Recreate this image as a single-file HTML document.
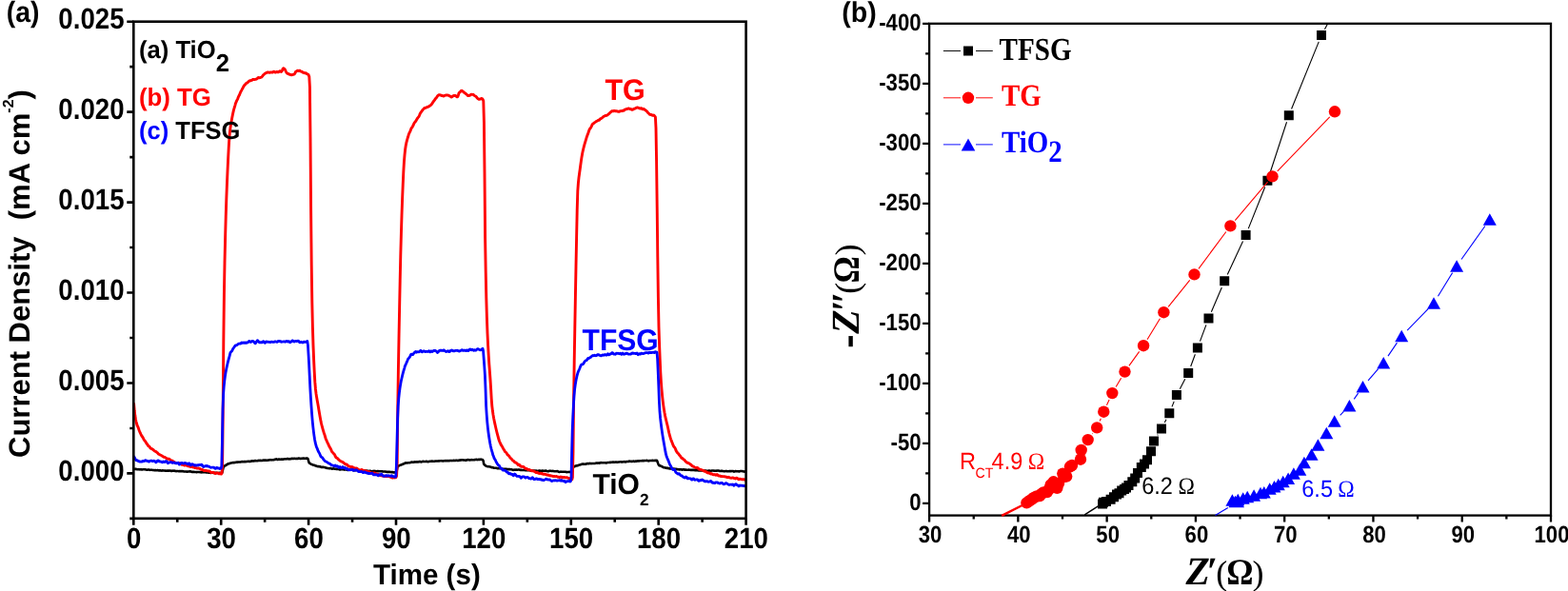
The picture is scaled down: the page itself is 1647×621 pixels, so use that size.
<!DOCTYPE html>
<html><head><meta charset="utf-8"><title>Figure</title>
<style>html,body{margin:0;padding:0;background:#fff;overflow:hidden}svg{display:block}</style>
</head><body>
<svg width="1647" height="621" viewBox="0 0 1647 621" text-rendering="geometricPrecision">
<rect width="1647" height="621" fill="#fff"/>
<g fill="none" stroke-linejoin="round" stroke-linecap="round">
<path d="M140.4,492.92 141,492.96 141.6,492.91 142.2,492.86 142.8,492.88 143.4,492.94 144,493.15 144.6,493.3 145.2,493.18 145.8,493.16 146.4,493.31 147,493.38 147.6,493.32 148.2,493.27 148.8,493.39 149.4,493.45 150,493.33 150.6,493.26 151.2,493.21 151.8,493.2 152.4,493.3 153,493.43 153.6,493.53 154.2,493.67 154.8,493.76 155.4,493.61 156,493.46 156.6,493.61 157.2,493.83 157.8,493.81 158.4,493.72 159,493.74 159.6,493.79 160.2,493.92 160.8,494.07 161.4,494.03 162,494.09 162.6,494.19 163.2,494.12 163.8,494.13 164.4,494.2 165,494.16 165.6,494.1 166.2,494.28 166.8,494.36 167.4,494.26 168,494.35 168.6,494.39 169.2,494.43 169.8,494.65 170.4,494.56 171,494.35 171.6,494.44 172.2,494.55 172.8,494.56 173.4,494.59 174,494.62 174.6,494.73 175.2,494.76 175.8,494.63 176.4,494.59 177,494.61 177.6,494.59 178.2,494.52 178.8,494.56 179.4,494.73 180,494.92 180.6,494.89 181.2,494.66 181.8,494.69 182.4,494.75 183,494.64 183.6,494.71 184.2,494.95 184.8,495.12 185.4,495.1 186,494.97 186.6,494.93 187.2,495.08 187.8,495.21 188.4,495.12 189,495.08 189.6,495.17 190.2,495.17 190.8,495.11 191.4,495.09 192,495.17 192.6,495.31 193.2,495.48 193.8,495.51 194.4,495.47 195,495.48 195.6,495.52 196.2,495.59 196.8,495.62 197.4,495.54 198,495.48 198.6,495.48 199.2,495.34 199.8,495.32 200.4,495.5 201,495.63 201.6,495.87 202.2,496.03 202.8,495.83 203.4,495.76 204,495.91 204.6,495.99 205.2,495.95 205.8,495.99 206.4,496.12 207,496.09 207.6,495.98 208.2,496.03 208.8,496.06 209.4,496.04 210,496.1 210.6,496.18 211.2,496.31 211.8,496.34 212.4,496.27 213,496.24 213.6,496.17 214.2,496.05 214.8,496.16 215.4,496.27 216,496.27 216.6,496.35 217.2,496.39 217.8,496.47 218.4,496.55 219,496.64 219.6,496.59 220.2,496.54 220.8,496.82 221.4,496.94 222,496.79 222.6,496.7 223.2,496.68 223.8,496.74 224.4,496.86 225,496.84 225.6,496.77 226.2,496.74 226.8,496.7 227.4,496.8 228,497 228.6,497.06 229.2,497.07 229.8,496.99 230.4,496.88 231,496.87 231.6,496.91 232.2,496.94 232.8,496.94 233.4,496.58 234,493.81 234.6,491.12 235.2,490.48 235.8,489.75 236.4,489.22 237,489.05 237.6,488.73 238.2,488.2 238.8,487.84 239.4,487.5 240,487.22 240.6,487.17 241.2,487.02 241.8,486.74 242.4,486.56 243,486.46 243.6,486.34 244.2,486.18 244.8,485.99 245.4,485.99 246,486.1 246.6,486 247.2,485.89 247.8,485.8 248.4,485.66 249,485.63 249.6,485.64 250.2,485.54 250.8,485.46 251.4,485.5 252,485.56 252.6,485.5 253.2,485.32 253.8,485.09 254.4,485.03 255,485.21 255.6,485.25 256.2,485.11 256.8,485.1 257.4,485.13 258,485.12 258.6,485.01 259.2,484.93 259.8,484.88 260.4,484.76 261,484.79 261.6,484.86 262.2,484.91 262.8,485 263.4,484.82 264,484.42 264.6,484.31 265.2,484.44 265.8,484.4 266.4,484.43 267,484.41 267.6,484.11 268.2,484.01 268.8,484.22 269.4,484.29 270,484.22 270.6,484.15 271.2,483.99 271.8,483.9 272.4,483.94 273,483.84 273.6,483.81 274.2,483.95 274.8,484 275.4,483.9 276,483.74 276.6,483.64 277.2,483.59 277.8,483.61 278.4,483.64 279,483.62 279.6,483.66 280.2,483.78 280.8,483.74 281.4,483.53 282,483.5 282.6,483.48 283.2,483.31 283.8,483.16 284.4,483.22 285,483.33 285.6,483.28 286.2,483.19 286.8,483.2 287.4,483.24 288,483.01 288.6,482.73 289.2,482.67 289.8,482.49 290.4,482.38 291,482.7 291.6,482.97 292.2,482.82 292.8,482.57 293.4,482.61 294,482.78 294.6,482.74 295.2,482.63 295.8,482.58 296.4,482.59 297,482.64 297.6,482.6 298.2,482.43 298.8,482.32 299.4,482.32 300,482.35 300.6,482.31 301.2,482.17 301.8,482.14 302.4,482.12 303,482.12 303.6,482.36 304.2,482.36 304.8,482.16 305.4,482.14 306,481.96 306.6,481.73 307.2,481.84 307.8,481.96 308.4,481.87 309,481.76 309.6,481.77 310.2,481.89 310.8,481.99 311.4,481.92 312,481.9 312.6,481.92 313.2,481.76 313.8,481.55 314.4,481.57 315,481.84 315.6,481.96 316.2,481.89 316.8,481.81 317.4,481.72 318,481.66 318.6,481.6 319.2,481.59 319.8,481.7 320.4,481.83 321,481.76 321.6,481.6 322.2,481.49 322.8,481.59 323.4,482.01 324,484.17 324.6,486.22 325.2,486.68 325.8,487.05 326.4,487.5 327,487.86 327.6,488.04 328.2,488.24 328.8,488.51 329.4,488.67 330,488.77 330.6,488.98 331.2,489.27 331.8,489.51 332.4,489.64 333,489.91 333.6,490.12 334.2,490.07 334.8,490.09 335.4,490.27 336,490.34 336.6,490.4 337.2,490.72 337.8,490.95 338.4,490.88 339,490.8 339.6,490.88 340.2,491 340.8,491.01 341.4,491.17 342,491.44 342.6,491.54 343.2,491.77 343.8,491.96 344.4,491.95 345,492.09 345.6,492.24 346.2,492.13 346.8,491.99 347.4,492.04 348,492.32 348.6,492.62 349.2,492.6 349.8,492.41 350.4,492.39 351,492.54 351.6,492.68 352.2,492.75 352.8,492.83 353.4,492.88 354,492.88 354.6,492.93 355.2,493.01 355.8,493.07 356.4,493.25 357,493.42 357.6,493.36 358.2,493.15 358.8,493.08 359.4,493.12 360,493.04 360.6,493.14 361.2,493.47 361.8,493.58 362.4,493.41 363,493.29 363.6,493.37 364.2,493.53 364.8,493.8 365.4,493.99 366,493.81 366.6,493.58 367.2,493.57 367.8,493.71 368.4,493.73 369,493.72 369.6,493.77 370.2,493.86 370.8,494.08 371.4,494.25 372,494.18 372.6,494.09 373.2,494.1 373.8,494.1 374.4,494.07 375,494.03 375.6,493.94 376.2,494.03 376.8,494.26 377.4,494.34 378,494.4 378.6,494.39 379.2,494.2 379.8,494.24 380.4,494.46 381,494.53 381.6,494.57 382.2,494.67 382.8,494.61 383.4,494.44 384,494.52 384.6,494.76 385.2,494.71 385.8,494.63 386.4,494.86 387,495.04 387.6,495.01 388.2,494.89 388.8,494.77 389.4,494.93 390,495.18 390.6,495.21 391.2,495.15 391.8,495.07 392.4,494.95 393,494.88 393.6,495.04 394.2,495.17 394.8,495.15 395.4,495.28 396,495.28 396.6,495.13 397.2,495.14 397.8,495.23 398.4,495.29 399,495.26 399.6,495.26 400.2,495.29 400.8,495.25 401.4,495.28 402,495.5 402.6,495.58 403.2,495.47 403.8,495.5 404.4,495.52 405,495.59 405.6,495.74 406.2,495.84 406.8,495.9 407.4,495.85 408,495.86 408.6,495.86 409.2,495.88 409.8,496 410.4,496.08 411,496.14 411.6,496.11 412.2,496.07 412.8,496.2 413.4,496.39 414,496.45 414.6,496.38 415.2,496.31 415.8,496.33 416.4,496.15 417,493.39 417.6,490.39 418.2,489.71 418.8,489.58 419.4,489.19 420,488.88 420.6,488.67 421.2,488.47 421.8,488.28 422.4,487.96 423,487.71 423.6,487.53 424.2,487.27 424.8,487.03 425.4,486.71 426,486.39 426.6,486.39 427.2,486.57 427.8,486.48 428.4,486.32 429,486.25 429.6,486.18 430.2,486.22 430.8,486.2 431.4,485.86 432,485.6 432.6,485.56 433.2,485.62 433.8,485.81 434.4,485.79 435,485.51 435.6,485.37 436.2,485.53 436.8,485.51 437.4,485.28 438,485.29 438.6,485.39 439.2,485.39 439.8,485.28 440.4,485.14 441,485.04 441.6,485.14 442.2,485.39 442.8,485.36 443.4,485.12 444,484.9 444.6,484.81 445.2,484.93 445.8,485.03 446.4,485.02 447,484.92 447.6,484.84 448.2,484.88 448.8,485 449.4,485.18 450,485.18 450.6,484.92 451.2,484.74 451.8,484.73 452.4,484.68 453,484.65 453.6,484.65 454.2,484.65 454.8,484.73 455.4,484.74 456,484.7 456.6,484.61 457.2,484.49 457.8,484.46 458.4,484.49 459,484.52 459.6,484.57 460.2,484.48 460.8,484.37 461.4,484.36 462,484.3 462.6,484.3 463.2,484.26 463.8,484.17 464.4,484.31 465,484.41 465.6,484.34 466.2,484.27 466.8,484.2 467.4,484.15 468,484.16 468.6,484.18 469.2,484.14 469.8,484.09 470.4,484.15 471,484.18 471.6,484.1 472.2,484.08 472.8,484.03 473.4,483.92 474,484 474.6,484.08 475.2,484.05 475.8,483.98 476.4,483.86 477,483.87 477.6,483.96 478.2,483.95 478.8,483.78 479.4,483.66 480,483.82 480.6,483.98 481.2,483.93 481.8,483.69 482.4,483.55 483,483.65 483.6,483.5 484.2,483.3 484.8,483.37 485.4,483.31 486,483.23 486.6,483.42 487.2,483.56 487.8,483.49 488.4,483.54 489,483.72 489.6,483.67 490.2,483.42 490.8,483.22 491.4,483.1 492,483.16 492.6,483.3 493.2,483.33 493.8,483.33 494.4,483.29 495,483.16 495.6,483.17 496.2,483.28 496.8,483.32 497.4,483.32 498,483.21 498.6,483.11 499.2,483.05 499.8,482.88 500.4,482.84 501,483.02 501.6,483.09 502.2,482.97 502.8,482.82 503.4,482.84 504,482.87 504.6,482.74 505.2,482.66 505.8,482.88 506.4,483.11 507,483.06 507.6,484.05 508.2,487.5 508.8,488.32 509.4,488.67 510,489.15 510.6,489.62 511.2,489.91 511.8,490.15 512.4,490.21 513,490.18 513.6,490.27 514.2,490.38 514.8,490.43 515.4,490.62 516,490.98 516.6,491.2 517.2,491.17 517.8,491.22 518.4,491.46 519,491.66 519.6,491.77 520.2,491.82 520.8,491.76 521.4,491.79 522,491.98 522.6,492.2 523.2,492.21 523.8,492.03 524.4,492.09 525,492.29 525.6,492.25 526.2,492.3 526.8,492.58 527.4,492.72 528,492.69 528.6,492.71 529.2,492.81 529.8,492.88 530.4,492.89 531,492.78 531.6,492.78 532.2,492.9 532.8,492.99 533.4,493.12 534,493.13 534.6,493.06 535.2,493.13 535.8,493.26 536.4,493.33 537,493.27 537.6,493.34 538.2,493.65 538.8,493.9 539.4,493.86 540,493.66 540.6,493.67 541.2,493.78 541.8,493.64 542.4,493.54 543,493.68 543.6,493.74 544.2,493.59 544.8,493.46 545.4,493.6 546,493.81 546.6,493.83 547.2,493.87 547.8,494 548.4,494.05 549,494.04 549.6,494.03 550.2,493.97 550.8,493.94 551.4,494.05 552,494.22 552.6,494.2 553.2,494.09 553.8,494.13 554.4,494.25 555,494.26 555.6,494.09 556.2,494.09 556.8,494.4 557.4,494.71 558,494.66 558.6,494.5 559.2,494.64 559.8,494.74 560.4,494.55 561,494.52 561.6,494.67 562.2,494.71 562.8,494.64 563.4,494.67 564,494.9 564.6,494.97 565.2,494.84 565.8,494.65 566.4,494.51 567,494.63 567.6,494.75 568.2,494.8 568.8,494.83 569.4,494.66 570,494.58 570.6,494.69 571.2,494.73 571.8,494.71 572.4,494.74 573,494.65 573.6,494.66 574.2,494.93 574.8,495.1 575.4,495.21 576,495.27 576.6,495 577.2,494.74 577.8,494.74 578.4,494.82 579,494.95 579.6,494.96 580.2,494.9 580.8,494.98 581.4,495.03 582,495.14 582.6,495.22 583.2,495.21 583.8,495.23 584.4,495.22 585,495.15 585.6,495.16 586.2,495.44 586.8,495.8 587.4,495.93 588,495.86 588.6,495.69 589.2,495.65 589.8,495.77 590.4,495.75 591,495.68 591.6,495.7 592.2,495.74 592.8,495.75 593.4,495.73 594,495.7 594.6,495.9 595.2,496.15 595.8,496.04 596.4,495.94 597,496.05 597.6,496.02 598.2,495.88 598.8,495.95 599.4,496.11 600,496.09 600.6,495.55 601.2,493.3 601.8,491.33 602.4,490.63 603,490.41 603.6,490.17 604.2,489.73 604.8,489.46 605.4,489.41 606,489.36 606.6,489.28 607.2,489.01 607.8,488.67 608.4,488.55 609,488.39 609.6,488.22 610.2,488.13 610.8,487.85 611.4,487.64 612,487.63 612.6,487.58 613.2,487.61 613.8,487.71 614.4,487.78 615,487.76 615.6,487.48 616.2,487.2 616.8,487.15 617.4,487.11 618,487.11 618.6,487.17 619.2,487.01 619.8,486.9 620.4,487.05 621,487.09 621.6,487.04 622.2,487.03 622.8,487 623.4,486.99 624,487.01 624.6,486.95 625.2,486.86 625.8,486.71 626.4,486.53 627,486.53 627.6,486.6 628.2,486.52 628.8,486.51 629.4,486.65 630,486.54 630.6,486.23 631.2,486.14 631.8,486.27 632.4,486.31 633,486.27 633.6,486.26 634.2,486.26 634.8,486.26 635.4,486.19 636,486.23 636.6,486.46 637.2,486.47 637.8,486.14 638.4,485.94 639,486 639.6,486.03 640.2,485.91 640.8,485.87 641.4,485.88 642,485.76 642.6,485.71 643.2,485.64 643.8,485.48 644.4,485.5 645,485.66 645.6,485.74 646.2,485.61 646.8,485.44 647.4,485.54 648,485.73 648.6,485.7 649.2,485.53 649.8,485.45 650.4,485.48 651,485.35 651.6,485.2 652.2,485.3 652.8,485.49 653.4,485.5 654,485.4 654.6,485.31 655.2,485.25 655.8,485.14 656.4,485.23 657,485.43 657.6,485.27 658.2,485.01 658.8,484.97 659.4,485.06 660,485.06 660.6,484.79 661.2,484.59 661.8,484.68 662.4,484.77 663,484.84 663.6,484.89 664.2,484.84 664.8,484.69 665.4,484.58 666,484.74 666.6,484.89 667.2,484.75 667.8,484.57 668.4,484.59 669,484.59 669.6,484.38 670.2,484.32 670.8,484.42 671.4,484.39 672,484.28 672.6,484.24 673.2,484.21 673.8,484.18 674.4,484.09 675,483.99 675.6,484.1 676.2,484.14 676.8,483.99 677.4,484 678,484.03 678.6,483.93 679.2,483.88 679.8,483.92 680.4,484.16 681,484.4 681.6,484.28 682.2,484.04 682.8,483.97 683.4,483.94 684,483.97 684.6,483.96 685.2,483.84 685.8,483.87 686.4,483.96 687,483.99 687.6,483.88 688.2,483.75 688.8,483.84 689.4,483.91 690,483.88 690.6,485.22 691.2,486.88 691.8,488.33 692.4,489.03 693,489.34 693.6,489.4 694.2,489.62 694.8,489.98 695.4,490.25 696,490.57 696.6,491.03 697.2,491.27 697.8,491.32 698.4,491.49 699,491.51 699.6,491.59 700.2,491.87 700.8,491.87 701.4,491.8 702,492 702.6,492.31 703.2,492.4 703.8,492.34 704.4,492.44 705,492.51 705.6,492.48 706.2,492.56 706.8,492.6 707.4,492.57 708,492.63 708.6,492.74 709.2,492.78 709.8,492.76 710.4,492.88 711,493.06 711.6,493.12 712.2,493.21 712.8,493.29 713.4,493.38 714,493.39 714.6,493.26 715.2,493.24 715.8,493.37 716.4,493.6 717,493.53 717.6,493.18 718.2,493.22 718.8,493.52 719.4,493.67 720,493.66 720.6,493.63 721.2,493.7 721.8,493.75 722.4,493.77 723,493.7 723.6,493.58 724.2,493.67 724.8,493.79 725.4,493.9 726,493.87 726.6,493.83 727.2,493.89 727.8,493.85 728.4,493.76 729,493.8 729.6,494.01 730.2,494.23 730.8,494.28 731.4,494.27 732,494.31 732.6,494.28 733.2,494.27 733.8,494.4 734.4,494.44 735,494.33 735.6,494.29 736.2,494.34 736.8,494.34 737.4,494.38 738,494.49 738.6,494.5 739.2,494.46 739.8,494.45 740.4,494.54 741,494.58 741.6,494.65 742.2,494.81 742.8,494.86 743.4,494.9 744,494.81 744.6,494.6 745.2,494.6 745.8,494.71 746.4,494.72 747,494.7 747.6,494.58 748.2,494.49 748.8,494.48 749.4,494.51 750,494.65 750.6,494.69 751.2,494.67 751.8,494.78 752.4,494.78 753,494.6 753.6,494.51 754.2,494.53 754.8,494.54 755.4,494.78 756,495 756.6,494.95 757.2,494.89 757.8,494.87 758.4,494.92 759,494.98 759.6,495.02 760.2,495.2 760.8,495.3 761.4,495.19 762,495.03 762.6,495 763.2,495.09 763.8,495.16 764.4,495.2 765,495.27 765.6,495.22 766.2,494.99 766.8,495.05 767.4,495.23 768,495.14 768.6,495.05 769.2,495.03 769.8,495.03 770.4,495.29 771,495.59 771.6,495.44 772.2,495.12 772.8,495.05 773.4,495.21 774,495.3 774.6,495.18 775.2,495.19 775.8,495.39 776.4,495.41 777,495.22 777.6,495.04 778.2,494.99 778.8,494.98 779.4,495.03 780,495.21 780.6,495.3 781.2,495.43 781.8,495.62 782.4,495.48 782.5,495.23" stroke="#000" stroke-width="2.6"/>
<path d="M140.6,424.5 141.2,431.29 141.8,436.3 142.4,440.21 143,443.04 143.6,445.29 144.2,447.22 144.8,448.38 145.4,449.85 146,451.68 146.6,453.25 147.2,454.7 147.8,455.99 148.4,457.25 149,458.26 149.6,458.98 150.2,460.03 150.8,461.19 151.4,462.24 152,463.11 152.6,463.74 153.2,464.66 153.8,465.78 154.4,466.48 155,467.23 155.6,468.49 156.2,469.09 156.8,469.06 157.4,469.9 158,471 158.6,471.34 159.2,471.48 159.8,471.78 160.4,472.18 161,472.66 161.6,473.24 162.2,473.83 162.8,474.14 163.4,474.33 164,474.7 164.6,475.2 165.2,475.62 165.8,476.24 166.4,476.93 167,477.33 167.6,477.65 168.2,477.98 168.8,478.24 169.4,478.51 170,478.94 170.6,479.31 171.2,479.64 171.8,480.19 172.4,480.42 173,480.44 173.6,480.71 174.2,481.12 174.8,481.5 175.4,481.92 176,482.33 176.6,482.2 177.2,482.08 177.8,482.39 178.4,482.77 179,483.48 179.6,484.18 180.2,484.22 180.8,484.01 181.4,484.45 182,485.19 182.6,485.34 183.2,485.44 183.8,486.04 184.4,486.58 185,486.55 185.6,486.36 186.2,486.52 186.8,486.66 187.4,486.54 188,486.62 188.6,486.91 189.2,487.1 189.8,487.4 190.4,488 191,488.36 191.6,488.13 192.2,488.1 192.8,488.43 193.4,488.82 194,489.03 194.6,488.87 195.2,488.68 195.8,488.69 196.4,489.11 197,489.65 197.6,489.74 198.2,489.66 198.8,489.89 199.4,490.28 200,490.46 200.6,490.45 201.2,490.36 201.8,490.25 202.4,490.7 203,491.13 203.6,490.92 204.2,491.11 204.8,491.54 205.4,491.55 206,491.61 206.6,491.88 207.2,492.11 207.8,492.03 208.4,491.93 209,492.19 209.6,492.4 210.2,492.62 210.8,493.04 211.4,493.41 212,493.5 212.6,493.52 213.2,493.89 213.8,494.28 214.4,494.5 215,494.54 215.6,494.37 216.2,494.48 216.8,494.62 217.4,494.58 218,494.79 218.6,494.99 219.2,494.95 219.8,494.92 220.4,495.23 221,495.82 221.6,496.32 222.2,496.48 222.8,496.38 223.4,496.3 224,496.43 224.6,496.71 225.2,496.94 225.8,497.33 226.4,497.62 227,497.26 227.6,496.88 228.2,496.88 228.8,496.92 229.4,497.29 230,497.86 230.6,497.74 231.2,497.49 231.8,497.91 232.4,498.13 233,497.26 233.6,490 234.2,431.42 234.8,359.6 235.4,309.52 236,276.02 236.6,249.87 237.2,228.08 237.8,209.51 238.4,193.7 239,180 239.6,167.36 240.2,155.73 240.8,146 241.4,139.05 242,134.14 242.6,130.22 243.2,126.81 243.8,123.51 244.4,120.41 245,117.59 245.6,115.13 246.2,113.03 246.8,111.1 247.4,108.81 248,107.36 248.6,105.86 249.2,104.74 249.8,103.53 250.4,101.83 251,100.54 251.6,99.61 252.2,98.01 252.8,96.44 253.4,95.49 254,94.39 254.6,93.18 255.2,92.18 255.8,90.99 256.4,89.94 257,89.39 257.6,88.76 258.2,87.97 258.8,87.39 259.4,87.19 260,86.9 260.6,86.19 261.2,85.67 261.8,85.2 262.4,84.79 263,84.74 263.6,84.7 264.2,84.49 264.8,84.02 265.4,83.53 266,83.4 266.6,83.52 267.2,83.6 267.8,83.52 268.4,83.28 269,83.2 269.6,83.06 270.2,82.43 270.8,81.74 271.4,81.41 272,81.55 272.6,81.75 273.2,81.54 273.8,81.36 274.4,81.19 275,80.82 275.6,80.13 276.2,79.22 276.8,78.53 277.4,78.06 278,77.52 278.6,76.97 279.2,76.83 279.8,76.62 280.4,76.12 281,75.98 281.6,76.01 282.2,76.16 282.8,76.31 283.4,76.24 284,76.01 284.6,75.84 285.2,75.97 285.8,76 286.4,76 287,75.67 287.6,75.12 288.2,75.29 288.8,75.85 289.4,76.08 290,75.88 290.6,75.46 291.2,75.33 291.8,75.78 292.4,75.91 293,75.4 293.6,74.84 294.2,74.64 294.8,75.13 295.4,75.44 296,74.89 296.6,73.58 297.2,72.16 297.8,71.72 298.4,72.14 299,72.62 299.6,73.53 300.2,74.87 300.8,76.02 301.4,76.87 302,77.31 302.6,77.35 303.2,77.6 303.8,78.1 304.4,78.3 305,78.33 305.6,78.56 306.2,78.73 306.8,78.63 307.4,78.48 308,78.34 308.6,78.19 309.2,77.92 309.8,77.1 310.4,75.74 311,74.98 311.6,74.74 312.2,74.29 312.8,74.31 313.4,74.6 314,74.39 314.6,74.12 315.2,74.41 315.8,75.03 316.4,75.28 317,75.18 317.6,75.5 318.2,76.14 318.8,76.39 319.4,76.46 320,76.82 320.6,76.91 321.2,76.77 321.8,77.23 322.4,77.81 323,77.89 323.6,78.11 324.2,79.09 324.8,80.62 325.4,91.08 326,144.21 326.6,221.04 327.2,277.98 327.8,317.44 328.4,343.7 329,362.9 329.6,377.75 330.2,390.51 330.8,401.15 331.4,408.47 332,413.44 332.6,417.37 333.2,420.73 333.8,424.03 334.4,427.61 335,431.22 335.6,434.78 336.2,438.2 336.8,441.41 337.4,444.34 338,446.9 338.6,449.22 339.2,451.38 339.8,453.4 340.4,455.3 341,456.92 341.6,458.97 342.2,461.01 342.8,462.49 343.4,463.75 344,465.11 344.6,466.25 345.2,467.62 345.8,469.01 346.4,469.99 347,471 347.6,472.13 348.2,473.55 348.8,474.74 349.4,475.38 350,476.07 350.6,476.73 351.2,477.33 351.8,478.37 352.4,479.86 353,480.88 353.6,481.06 354.2,481.34 354.8,482.01 355.4,482.62 356,483.23 356.6,483.75 357.2,484.21 357.8,484.62 358.4,484.85 359,485.03 359.6,485.31 360.2,485.75 360.8,486.21 361.4,486.68 362,487.12 362.6,487.67 363.2,487.99 363.8,487.98 364.4,488.19 365,488.72 365.6,489.51 366.2,490.11 366.8,490.13 367.4,490.21 368,490.38 368.6,490.47 369.2,490.8 369.8,490.61 370.4,490.7 371,491.83 371.6,492.11 372.2,491.69 372.8,491.81 373.4,492.09 374,492.11 374.6,492.05 375.2,492.38 375.8,492.9 376.4,493.27 377,493.52 377.6,493.81 378.2,494.02 378.8,493.83 379.4,493.6 380,493.44 380.6,493.8 381.2,494.38 381.8,494.48 382.4,494.64 383,494.71 383.6,494.63 384.2,494.81 384.8,495 385.4,495.29 386,495.72 386.6,495.85 387.2,495.65 387.8,495.72 388.4,496.07 389,496.4 389.6,496.97 390.2,497.44 390.8,497.25 391.4,496.96 392,496.9 392.6,496.88 393.2,496.93 393.8,497.14 394.4,497.44 395,497.81 395.6,498.11 396.2,498.17 396.8,498.12 397.4,498.4 398,498.98 398.6,499.36 399.2,499.56 399.8,499.7 400.4,499.68 401,499.6 401.6,499.99 402.2,500.23 402.8,499.93 403.4,500.22 404,500.6 404.6,500.52 405.2,500.63 405.8,500.69 406.4,500.54 407,500.53 407.6,500.5 408.2,500.51 408.8,500.72 409.4,501 410,501.27 410.6,501.25 411.2,501.34 411.8,501.93 412.4,502.17 413,501.9 413.6,501.67 414.2,501.73 414.8,501.94 415.4,501.75 416,501.53 416.6,499.92 417.2,486.06 417.8,427.83 418.4,388.43 419,355.57 419.6,324.9 420.2,294.85 420.8,267.83 421.4,245.65 422,226.25 422.6,209.29 423.2,194.46 423.8,181.05 424.4,170.47 425,163.1 425.6,157.33 426.2,153.23 426.8,150.22 427.4,147.79 428,145.71 428.6,143.78 429.2,141.54 429.8,140.05 430.4,138.82 431,137.66 431.6,135.92 432.2,134.64 432.8,133.88 433.4,132.88 434,131.8 434.6,130.45 435.2,129.08 435.8,128.32 436.4,127.8 437,126.91 437.6,125.8 438.2,124.82 438.8,123.86 439.4,123.12 440,122.47 440.6,121.04 441.2,119.41 441.8,118.41 442.4,117.73 443,116.93 443.6,116.01 444.2,115.27 444.8,114.63 445.4,113.84 446,113.52 446.6,113.49 447.2,113.14 447.8,112.92 448.4,112.8 449,112.35 449.6,112.1 450.2,112.11 450.8,111.65 451.4,111.1 452,110.91 452.6,110.45 453.2,109.72 453.8,109.09 454.4,108.11 455,106.98 455.6,106.28 456.2,105.6 456.8,104.63 457.4,103.68 458,103.02 458.6,102.39 459.2,101.48 459.8,100.67 460.4,100.14 461,99.66 461.6,99.76 462.2,100.07 462.8,99.92 463.4,100.09 464,100.52 464.6,100.56 465.2,100.64 465.8,101 466.4,100.91 467,100.35 467.6,100.17 468.2,100.16 468.8,100.01 469.4,99.95 470,100.04 470.6,100.17 471.2,100.27 471.8,100.64 472.4,100.97 473,101.12 473.6,101.61 474.2,102.05 474.8,101.75 475.4,101.19 476,100.77 476.6,100.44 477.2,100.44 477.8,100.45 478.4,100.41 479,100.96 479.6,101.65 480.2,101.85 480.8,101.63 481.4,99.95 482,97.83 482.6,97.03 483.2,96.8 483.8,96 484.4,95.35 485,95.28 485.6,95.59 486.2,96.04 486.8,96.6 487.4,97.17 488,97.51 488.6,97.91 489.2,98.46 489.8,98.9 490.4,99.34 491,100.06 491.6,100.67 492.2,100.58 492.8,100.31 493.4,100.3 494,99.91 494.6,99.37 495.2,99.18 495.8,99.3 496.4,99.4 497,99.37 497.6,99.71 498.2,100.36 498.8,100.74 499.4,101.04 500,101.46 500.6,102.08 501.2,102.97 501.8,103.57 502.4,103.81 503,104.21 503.6,104.28 504.2,104.08 504.8,103.99 505.4,103.62 506,103.42 506.6,103.73 507.2,104.51 507.8,106.2 508.4,128.08 509,180.94 509.6,250 510.2,285.61 510.8,313.13 511.4,334.15 512,350.25 512.6,362.8 513.2,373.33 513.8,382.57 514.4,390.51 515,398.55 515.6,408.28 516.2,418.74 516.8,426.6 517.4,431.56 518,435.71 518.6,439.23 519.2,442.3 519.8,445.1 520.4,447.8 521,450.47 521.6,453.02 522.2,455.43 522.8,457.69 523.4,459.77 524,462.11 524.6,463.74 525.2,465.05 525.8,466.46 526.4,467.6 527,468.5 527.6,469.44 528.2,470.66 528.8,471.74 529.4,472.55 530,473.64 530.6,474.65 531.2,475.12 531.8,475.56 532.4,476.63 533,477.65 533.6,478.23 534.2,478.69 534.8,479.26 535.4,480.21 536,481.09 536.6,481.61 537.2,482.06 537.8,482.83 538.4,483.61 539,484.09 539.6,484.36 540.2,485.08 540.8,485.92 541.4,486 542,486.15 542.6,486.59 543.2,487.13 543.8,488.02 544.4,488.5 545,488.23 545.6,488.39 546.2,489.3 546.8,489.94 547.4,490.23 548,490.35 548.6,490.3 549.2,490.37 549.8,490.46 550.4,490.88 551,491.53 551.6,492.04 552.2,492.55 552.8,492.55 553.4,492.54 554,493.17 554.6,493.67 555.2,493.51 555.8,493.37 556.4,493.89 557,494.33 557.6,494.19 558.2,494.34 558.8,494.85 559.4,494.92 560,494.81 560.6,495 561.2,495.33 561.8,495.72 562.4,496.13 563,496.5 563.6,496.44 564.2,496.27 564.8,496.72 565.4,497.2 566,497.4 566.6,497.48 567.2,497.29 567.8,497.4 568.4,497.73 569,497.51 569.6,497.55 570.2,498.13 570.8,498.29 571.4,498.2 572,498.14 572.6,498.18 573.2,498.46 573.8,498.89 574.4,498.97 575,498.9 575.6,499.2 576.2,499.22 576.8,499.33 577.4,499.77 578,499.71 578.6,499.77 579.2,500.16 579.8,500.13 580.4,500.14 581,500.48 581.6,500.61 582.2,500.55 582.8,500.54 583.4,500.58 584,500.66 584.6,500.54 585.2,500.75 585.8,501.21 586.4,501.15 587,501.23 587.6,501.56 588.2,501.29 588.8,501.04 589.4,501.12 590,501.2 590.6,501.62 591.2,501.78 591.8,501.45 592.4,501.42 593,501.68 593.6,501.73 594.2,501.77 594.8,501.83 595.4,501.71 596,501.92 596.6,502.27 597.2,502.53 597.8,502.66 598.4,502.74 599,503.22 599.6,503.64 600.2,503.78 600.8,503.88 601.4,501.67 602,473.92 602.6,420 603.2,380.5 603.8,345.72 604.4,311.62 605,279.73 605.6,250.13 606.2,221 606.8,200.92 607.4,192.44 608,186.67 608.6,182.25 609.2,178.06 609.8,173.49 610.4,169.13 611,165.15 611.6,161.71 612.2,158.82 612.8,156.24 613.4,153.9 614,151.73 614.6,149.66 615.2,147.62 615.8,145.61 616.4,143.67 617,142.01 617.6,140.59 618.2,138.72 618.8,136.93 619.4,135.68 620,134.86 620.6,134.07 621.2,132.86 621.8,131.55 622.4,130.43 623,129.81 623.6,129.58 624.2,129.15 624.8,128.48 625.4,128.17 626,127.84 626.6,127.37 627.2,127.18 627.8,126.74 628.4,126.26 629,126.33 629.6,126.09 630.2,125.21 630.8,124.65 631.4,124.5 632,124.09 632.6,123.66 633.2,123.18 633.8,122.58 634.4,122.26 635,121.94 635.6,121.63 636.2,121.44 636.8,121.37 637.4,121.3 638,120.89 638.6,120.38 639.2,119.98 639.8,119.48 640.4,118.77 641,118.21 641.6,117.75 642.2,117.21 642.8,116.73 643.4,116.59 644,116.81 644.6,116.72 645.2,116.38 645.8,116.49 646.4,116.87 647,116.78 647.6,116.65 648.2,116.83 648.8,117.12 649.4,117.27 650,117.31 650.6,117.24 651.2,116.89 651.8,116.6 652.4,116.6 653,116.69 653.6,116.41 654.2,116.2 654.8,116.37 655.4,116.11 656,115.46 656.6,115.01 657.2,114.8 657.8,114.78 658.4,114.65 659,114.33 659.6,114.1 660.2,113.98 660.8,114.04 661.4,114.49 662,114.7 662.6,114.51 663.2,114.78 663.8,115.22 664.4,115.23 665,114.92 665.6,114.54 666.2,114.26 666.8,114.11 667.4,113.78 668,113.41 668.6,113.26 669.2,113 669.8,112.9 670.4,113.28 671,113.49 671.6,113.59 672.2,113.96 672.8,114.01 673.4,113.68 674,113.93 674.6,114.69 675.2,114.87 675.8,114.51 676.4,114.54 677,115.06 677.6,115.5 678.2,115.96 678.8,116.57 679.4,116.95 680,117.58 680.6,118.48 681.2,118.99 681.8,119.55 682.4,120.23 683,120.51 683.6,120.5 684.2,120.5 684.8,120.78 685.4,121.29 686,121.28 686.6,121.06 687.2,121.48 687.8,122.16 688.4,122.86 689,134.55 689.6,170 690.2,218.09 690.8,270 691.4,312.66 692,343.9 692.6,362.37 693.2,377.51 693.8,391.26 694.4,401.38 695,408.99 695.6,415.51 696.2,421.09 696.8,425.88 697.4,430 698,433.57 698.6,436.69 699.2,439.47 699.8,442.02 700.4,444.47 701,446.94 701.6,449.54 702.2,452.35 702.8,455 703.4,457.3 704,459.43 704.6,461.37 705.2,463.12 705.8,464.52 706.4,465.97 707,467.67 707.6,469.03 708.2,469.72 708.8,470.33 709.4,471.57 710,473.25 710.6,474.47 711.2,475.26 711.8,475.98 712.4,476.54 713,477.26 713.6,478.21 714.2,478.87 714.8,479.49 715.4,480.61 716,481.38 716.6,481.44 717.2,481.89 717.8,482.69 718.4,482.97 719,483.31 719.6,484.26 720.2,484.86 720.8,485.37 721.4,486.1 722,486.23 722.6,486.28 723.2,486.63 723.8,486.87 724.4,487.31 725,487.88 725.6,488.16 726.2,488.67 726.8,489.43 727.4,489.82 728,490 728.6,490.24 729.2,490.63 729.8,490.99 730.4,491.29 731,491.53 731.6,491.46 732.2,491.46 732.8,491.69 733.4,492.21 734,492.94 734.6,493.31 735.2,493.28 735.8,493.42 736.4,493.65 737,493.73 737.6,493.99 738.2,494.28 738.8,494.47 739.4,494.93 740,495.28 740.6,495.29 741.2,495.3 741.8,495.78 742.4,496.35 743,496.52 743.6,496.92 744.2,497.12 744.8,496.87 745.4,497.02 746,497.71 746.6,497.99 747.2,497.67 747.8,497.83 748.4,498.3 749,498.64 749.6,498.8 750.2,498.67 750.8,498.56 751.4,498.81 752,499.2 752.6,498.88 753.2,498.58 753.8,499.03 754.4,499.66 755,500.01 755.6,499.89 756.2,499.9 756.8,500.32 757.4,500.56 758,500.54 758.6,500.66 759.2,500.69 759.8,500.59 760.4,500.69 761,500.72 761.6,500.85 762.2,501.04 762.8,501.08 763.4,501.46 764,501.69 764.6,501.44 765.2,501.31 765.8,501.54 766.4,501.9 767,502.09 767.6,502.19 768.2,502.21 768.8,502.11 769.4,501.99 770,502.02 770.6,502.38 771.2,502.53 771.8,502.59 772.4,502.93 773,502.67 773.6,502.2 774.2,502.36 774.8,502.73 775.4,503.4 776,503.76 776.6,503.35 777.2,503.17 777.8,503.3 778.4,503.51 779,503.8 779.6,503.78 780.2,503.68 780.8,503.78 781.4,503.69 782,503.85 782.5,504.11" stroke="#ff0000" stroke-width="2.9"/>
<path d="M140.4,479.6 141,480.36 141.6,481.32 142.2,482.45 142.8,483.42 143.4,483.73 144,483.55 144.6,483.97 145.2,484.51 145.8,484.62 146.4,484.87 147,485.14 147.6,485.06 148.2,484.99 148.8,485.22 149.4,484.95 150,484.39 150.6,484.64 151.2,484.68 151.8,484.25 152.4,483.81 153,483.62 153.6,484 154.2,484.42 154.8,484.46 155.4,484.5 156,485.05 156.6,485.08 157.2,484.56 157.8,484.27 158.4,484.09 159,484.07 159.6,484.36 160.2,484.68 160.8,484.49 161.4,484.21 162,484.32 162.6,484.54 163.2,485.2 163.8,485.88 164.4,485.56 165,484.71 165.6,484.07 166.2,483.87 166.8,484.32 167.4,484.96 168,485.05 168.6,484.98 169.2,485.05 169.8,485.5 170.4,485.78 171,485.32 171.6,484.98 172.2,485.24 172.8,485.48 173.4,485.07 174,484.64 174.6,484.55 175.2,484.91 175.8,486.12 176.4,486.67 177,486.09 177.6,486.06 178.2,485.95 178.8,485.47 179.4,485.59 180,485.72 180.6,486.12 181.2,486.35 181.8,485.85 182.4,486.03 183,486.33 183.6,486.15 184.2,486.45 184.8,486.79 185.4,486.75 186,486.81 186.6,486.48 187.2,486.19 187.8,487.26 188.4,488.07 189,487.77 189.6,487.09 190.2,486.44 190.8,486.38 191.4,486.46 192,486.77 192.6,487.14 193.2,486.93 193.8,486.54 194.4,486.37 195,486.82 195.6,487.17 196.2,486.95 196.8,487.37 197.4,487.85 198,487.22 198.6,486.77 199.2,487.36 199.8,488.45 200.4,488.92 201,488.25 201.6,487.59 202.2,487.86 202.8,488.18 203.4,488.23 204,488.84 204.6,489.09 205.2,488.73 205.8,488.78 206.4,489.16 207,489.05 207.6,488.68 208.2,488.81 208.8,488.63 209.4,488.41 210,488.68 210.6,488.65 211.2,488.23 211.8,488.05 212.4,488.76 213,490.04 213.6,490.56 214.2,490.35 214.8,490.07 215.4,489.7 216,489.72 216.6,489.8 217.2,489.47 217.8,489.57 218.4,490.06 219,490.09 219.6,490.12 220.2,490.55 220.8,490.96 221.4,491.26 222,491.17 222.6,491.05 223.2,491.21 223.8,491.19 224.4,491.09 225,491.43 225.6,492.02 226.2,492.43 226.8,492.16 227.4,491.44 228,491.43 228.6,491.87 229.2,492.03 229.8,491.94 230.4,492.09 231,492.51 231.6,492.28 232.2,492.13 232.8,489.61 233.4,464.96 234,430.3 234.6,414.44 235.2,406.07 235.8,400.23 236.4,395.51 237,391.68 237.6,388.49 238.2,385.65 238.8,382.97 239.4,380.44 240,378.09 240.6,375.92 241.2,373.96 241.8,371.13 242.4,369.98 243,369.33 243.6,368.9 244.2,367.68 244.8,366.41 245.4,365.55 246,364.77 246.6,363.89 247.2,363.08 247.8,362.78 248.4,362.8 249,362.49 249.6,362.02 250.2,361.5 250.8,361.11 251.4,361.01 252,361.11 252.6,361.09 253.2,360.57 253.8,359.91 254.4,360.02 255,360.45 255.6,360.03 256.2,359.88 256.8,360.4 257.4,360.39 258,359.83 258.6,359.83 259.2,360.3 259.8,360.06 260.4,359.57 261,359.06 261.6,358.43 262.2,358.56 262.8,359.27 263.4,359.49 264,359.05 264.6,358.49 265.2,358.42 265.8,358.59 266.4,358.83 267,359.6 267.6,360.51 268.2,360.84 268.8,360.1 269.4,359.06 270,358.14 270.6,357.63 271.2,358.34 271.8,359.3 272.4,359.77 273,359.86 273.6,359.7 274.2,359.64 274.8,359.9 275.4,359.8 276,359.07 276.6,358.63 277.2,358.98 277.8,359.93 278.4,360.29 279,359.62 279.6,359.01 280.2,359.08 280.8,359.26 281.4,359.25 282,359.34 282.6,359.39 283.2,359.42 283.8,359.61 284.4,359.51 285,359.21 285.6,359.11 286.2,359.26 286.8,359.48 287.4,359.41 288,359.28 288.6,358.9 289.2,358.8 289.8,359.13 290.4,359.16 291,359.4 291.6,359.22 292.2,358.46 292.8,358.4 293.4,358.64 294,358.51 294.6,358.67 295.2,359.16 295.8,359.25 296.4,359.12 297,359.05 297.6,358.95 298.2,358.8 298.8,358.97 299.4,359.23 300,359.02 300.6,358.56 301.2,358.44 301.8,358.83 302.4,359.01 303,358.68 303.6,358.6 304.2,359.39 304.8,359.85 305.4,359.24 306,358.93 306.6,358.47 307.2,357.82 307.8,358.13 308.4,358.75 309,359.08 309.6,358.73 310.2,358.3 310.8,358.49 311.4,358.61 312,358.5 312.6,358.3 313.2,358.11 313.8,358.51 314.4,359.38 315,359.82 315.6,359.49 316.2,359.27 316.8,359.55 317.4,359.83 318,359.98 318.6,359.69 319.2,359.23 319.8,359.19 320.4,359.33 321,359.43 321.6,359.32 322.2,358.75 322.8,358.43 323.4,362.37 324,372.16 324.6,382.6 325.2,395.11 325.8,407.42 326.4,417.61 327,426.87 327.6,435.12 328.2,442.26 328.8,448.49 329.4,453.58 330,458.07 330.6,462 331.2,465.16 331.8,467.51 332.4,469.56 333,470.82 333.6,472.37 334.2,473.9 334.8,475.18 335.4,476.01 336,477.29 336.6,478.9 337.2,480 337.8,480.47 338.4,480.67 339,481.42 339.6,482.49 340.2,483.2 340.8,483.85 341.4,484.54 342,484.83 342.6,485 343.2,485.47 343.8,485.82 344.4,486.13 345,486.73 345.6,487.05 346.2,487.11 346.8,487.42 347.4,488.01 348,488.59 348.6,488.84 349.2,488.98 349.8,489.17 350.4,489.43 351,489.69 351.6,489.19 352.2,488.99 352.8,489.89 353.4,490.01 354,489.62 354.6,489.79 355.2,490.47 355.8,491.36 356.4,491.06 357,490.49 357.6,490.88 358.2,491.53 358.8,491.82 359.4,490.99 360,490.52 360.6,491.25 361.2,491.67 361.8,491.34 362.4,491.28 363,492.33 363.6,492.75 364.2,492.31 364.8,492.6 365.4,493.23 366,493.79 366.6,493.61 367.2,493.37 367.8,493.77 368.4,493.7 369,493.53 369.6,493.72 370.2,493.37 370.8,493.51 371.4,494.44 372,494.33 372.6,494.07 373.2,494.15 373.8,493.75 374.4,493.75 375,494.26 375.6,494.67 376.2,495.24 376.8,495.59 377.4,495.48 378,495.69 378.6,495.72 379.2,495.45 379.8,495.53 380.4,495.84 381,496.41 381.6,496.59 382.2,496.14 382.8,495.92 383.4,496.16 384,496.5 384.6,496.86 385.2,496.79 385.8,496.8 386.4,497.42 387,497.52 387.6,497.4 388.2,497.65 388.8,497.51 389.4,497.39 390,497.48 390.6,497.37 391.2,497.46 391.8,498.06 392.4,498.87 393,498.93 393.6,498.68 394.2,498.83 394.8,498.71 395.4,498.73 396,498.98 396.6,499.35 397.2,499.73 397.8,499.07 398.4,498.64 399,499.09 399.6,499 400.2,498.24 400.8,498.06 401.4,499.16 402,499.95 402.6,500.02 403.2,500.3 403.8,500.35 404.4,500.07 405,499.86 405.6,499.53 406.2,499.71 406.8,500.3 407.4,500.06 408,499.67 408.6,499.98 409.2,500.07 409.8,500.05 410.4,500.34 411,500.11 411.6,499.65 412.2,500.25 412.8,500.9 413.4,500.57 414,500.73 414.6,501.28 415.2,501.02 415.8,500.9 416.4,488.55 417,464.38 417.6,440.73 418.2,426.6 418.8,418.55 419.4,412.82 420,408.25 420.6,404.39 421.2,401.08 421.8,398.19 422.4,395.58 423,393.14 423.6,390.86 424.2,388.75 424.8,386.81 425.4,384.62 426,383.33 426.6,382.02 427.2,380.61 427.8,379.18 428.4,377.65 429,376.78 429.6,376.15 430.2,375.39 430.8,374.4 431.4,372.89 432,372.12 432.6,372.33 433.2,372.64 433.8,372.6 434.4,371.61 435,370.66 435.6,370.33 436.2,369.54 436.8,369.48 437.4,370.27 438,370.04 438.6,369.54 439.2,369.7 439.8,369.8 440.4,369.62 441,369.24 441.6,368.45 442.2,368.42 442.8,369.49 443.4,369.88 444,369.44 444.6,369.13 445.2,368.87 445.8,368.97 446.4,369.51 447,369.57 447.6,369.31 448.2,369.36 448.8,369.5 449.4,369.46 450,369.07 450.6,368.68 451.2,369.31 451.8,369.77 452.4,369.1 453,368.92 453.6,369.42 454.2,369.59 454.8,369.02 455.4,368.48 456,368.54 456.6,368.36 457.2,368.44 457.8,368.9 458.4,369.05 459,369.79 459.6,370.48 460.2,369.99 460.8,369.17 461.4,368.56 462,368.25 462.6,368.24 463.2,368.26 463.8,368.22 464.4,368.38 465,368.48 465.6,368.17 466.2,367.86 466.8,368.16 467.4,368.81 468,369.2 468.6,369.51 469.2,369.42 469.8,369.06 470.4,368.76 471,368.85 471.6,369.69 472.2,369.7 472.8,368.72 473.4,368.35 474,368.31 474.6,367.92 475.2,368.2 475.8,368.87 476.4,368.78 477,368.68 477.6,368.73 478.2,368.47 478.8,368.42 479.4,368.28 480,368.23 480.6,368.37 481.2,368.6 481.8,368.95 482.4,369.03 483,368.92 483.6,368.52 484.2,368.2 484.8,367.76 485.4,367.62 486,368.27 486.6,368.36 487.2,368.16 487.8,368.33 488.4,368.19 489,368.19 489.6,368.5 490.2,368.13 490.8,367.88 491.4,368.53 492,368.57 492.6,367.82 493.2,367.23 493.8,366.88 494.4,367.23 495,367.85 495.6,367.68 496.2,367.27 496.8,367.74 497.4,368.28 498,367.85 498.6,367.72 499.2,368.23 499.8,368.14 500.4,367.63 501,367.06 501.6,366.6 502.2,366.67 502.8,367.04 503.4,367.38 504,367.67 504.6,367.78 505.2,367.67 505.8,367.35 506.4,366.62 507,366.23 507.6,368.92 508.2,377.15 508.8,385.26 509.4,394.33 510,408.48 510.6,426.6 511.2,436.02 511.8,443.54 512.4,449.57 513,454.51 513.6,458.77 514.2,462.58 514.8,465.96 515.4,468.95 516,471.53 516.6,473.74 517.2,475.64 517.8,478.12 518.4,479.43 519,481.25 519.6,482.41 520.2,483.19 520.8,484.49 521.4,485.81 522,486.69 522.6,487.66 523.2,488.59 523.8,488.74 524.4,489.27 525,490.58 525.6,491.62 526.2,491.91 526.8,492.11 527.4,492.94 528,493.88 528.6,494.14 529.2,493.92 529.8,494.22 530.4,494.44 531,494.36 531.6,495.16 532.2,496.08 532.8,496.07 533.4,496.28 534,497.19 534.6,497.85 535.2,497.8 535.8,497.52 536.4,497.94 537,498.45 537.6,498.22 538.2,498.41 538.8,499.4 539.4,499.69 540,498.68 540.6,498 541.2,498.46 541.8,499.23 542.4,499.99 543,500.49 543.6,500.38 544.2,500.33 544.8,500.48 545.4,500.52 546,500.66 546.6,501.38 547.2,502.33 547.8,502.02 548.4,501.06 549,500.88 549.6,500.92 550.2,500.83 550.8,501.04 551.4,501.63 552,502.1 552.6,501.91 553.2,501.47 553.8,501.29 554.4,501.54 555,502.06 555.6,502.57 556.2,502.79 556.8,502.76 557.4,502.99 558,503.02 558.6,502.42 559.2,501.77 559.8,502.12 560.4,503.27 561,503.76 561.6,503.58 562.2,503.39 562.8,503.1 563.4,502.88 564,503.15 564.6,503.68 565.2,503.69 565.8,503.37 566.4,503.45 567,503.79 567.6,503.7 568.2,503.76 568.8,504.31 569.4,504.24 570,504.2 570.6,504.7 571.2,504.64 571.8,504.28 572.4,504.03 573,503.65 573.6,503.23 574.2,503.41 574.8,503.9 575.4,503.92 576,504.07 576.6,504 577.2,503.84 577.8,504.26 578.4,504.72 579,505.22 579.6,505.52 580.2,505.33 580.8,505.01 581.4,504.83 582,504.99 582.6,504.94 583.2,504.7 583.8,504.77 584.4,504.95 585,505.14 585.6,505.14 586.2,504.81 586.8,504.87 587.4,504.97 588,504.55 588.6,504.97 589.2,505.24 589.8,504.41 590.4,504.68 591,505.21 591.6,505.44 592.2,505.68 592.8,505.3 593.4,505.94 594,506.7 594.6,506.28 595.2,505.85 595.8,505.65 596.4,505.64 597,505.73 597.6,505.51 598.2,505.76 598.8,506.06 599.4,505.67 600,502.38 600.6,476.09 601.2,452.42 601.8,437.73 602.4,425.59 603,416.02 603.6,409.32 604.2,404.86 604.8,401.06 605.4,397.83 606,395.11 606.6,392.82 607.2,391.01 607.8,389.54 608.4,388.25 609,386.86 609.6,385.34 610.2,383.9 610.8,383.06 611.4,382.85 612,382.82 612.6,382.51 613.2,381.59 613.8,380.34 614.4,379.5 615,379.02 615.6,378.74 616.2,378.64 616.8,377.88 617.4,376.63 618,376.31 618.6,376.54 619.2,376.05 619.8,375.56 620.4,375.4 621,374.8 621.6,374.27 622.2,373.73 622.8,373.52 623.4,373.82 624,373.58 624.6,373.28 625.2,373.54 625.8,373.84 626.4,373.74 627,373.18 627.6,372.76 628.2,372.7 628.8,372.74 629.4,373.11 630,373.34 630.6,373.54 631.2,373.92 631.8,373.68 632.4,373.25 633,372.96 633.6,372.91 634.2,373.28 634.8,373.04 635.4,372.52 636,372.83 636.6,373.13 637.2,373.06 637.8,372.57 638.4,371.77 639,372.02 639.6,372.88 640.2,372.48 640.8,371.82 641.4,372.03 642,371.77 642.6,370.92 643.2,370.56 643.8,371.09 644.4,371.89 645,372.08 645.6,372.02 646.2,372.24 646.8,371.91 647.4,371.23 648,371.29 648.6,371.34 649.2,371.2 649.8,371.46 650.4,371.73 651,371.5 651.6,371.18 652.2,371.82 652.8,372.39 653.4,371.52 654,371.04 654.6,371.75 655.2,372.23 655.8,371.92 656.4,371.67 657,371.84 657.6,371.47 658.2,371.07 658.8,371.3 659.4,371.76 660,372.16 660.6,372.15 661.2,372.06 661.8,372.13 662.4,372.14 663,371.82 663.6,371.02 664.2,370.95 664.8,371.41 665.4,371.22 666,371.25 666.6,371.46 667.2,371.34 667.8,371.63 668.4,371.58 669,371.04 669.6,371.89 670.2,372.67 670.8,372.01 671.4,371.67 672,372.16 672.6,372.12 673.2,371.36 673.8,371.18 674.4,371.44 675,371.55 675.6,371.59 676.2,371.45 676.8,371.15 677.4,370.92 678,370.67 678.6,370.57 679.2,370.71 679.8,370.54 680.4,370.61 681,371.1 681.6,370.65 682.2,370.24 682.8,370.55 683.4,370.5 684,370.47 684.6,370.51 685.2,370.45 685.8,370.27 686.4,370.04 687,370.5 687.6,370.53 688.2,369.66 688.8,369.78 689.4,370.08 690,370.1 690.6,376.77 691.2,390.38 691.8,404.85 692.4,421.81 693,432.71 693.6,439.42 694.2,444.65 694.8,449.24 695.4,453.65 696,457.63 696.6,461.29 697.2,464.75 697.8,468.13 698.4,471.59 699,474.89 699.6,477.73 700.2,479.82 700.8,481.29 701.4,482.6 702,483.92 702.6,485.44 703.2,487.08 703.8,488.29 704.4,489.42 705,490.58 705.6,491.71 706.2,493.04 706.8,493.56 707.4,493.51 708,493.29 708.6,493.38 709.2,494.68 709.8,496.27 710.4,496.88 711,497.04 711.6,497.71 712.2,498.14 712.8,497.85 713.4,497.67 714,498.36 714.6,499.25 715.2,499.78 715.8,499.81 716.4,499.91 717,500.73 717.6,501.28 718.2,501.52 718.8,501.92 719.4,502.03 720,501.55 720.6,500.99 721.2,501.46 721.8,502.61 722.4,502.96 723,502.65 723.6,502.57 724.2,502.8 724.8,502.96 725.4,502.87 726,503.35 726.6,504.15 727.2,503.88 727.8,503.12 728.4,502.88 729,503.35 729.6,504.13 730.2,504.32 730.8,504.07 731.4,503.98 732,503.8 732.6,503.96 733.2,504.65 733.8,505.25 734.4,505.32 735,504.64 735.6,504.52 736.2,504.9 736.8,504.5 737.4,503.98 738,504.22 738.6,504.86 739.2,505.17 739.8,505.36 740.4,505.81 741,505.99 741.6,505.76 742.2,505.55 742.8,505.64 743.4,506.08 744,506.32 744.6,506.23 745.2,506.15 745.8,505.8 746.4,505.39 747,505.78 747.6,506.59 748.2,507.12 748.8,507.29 749.4,507.14 750,507.33 750.6,507.68 751.2,507.4 751.8,506.85 752.4,506.84 753,506.91 753.6,506.89 754.2,507.44 754.8,507.72 755.4,507.79 756,508.1 756.6,507.77 757.2,507.42 757.8,507.4 758.4,507.5 759,507.85 759.6,508.32 760.2,508.75 760.8,508.71 761.4,508.39 762,507.9 762.6,507.61 763.2,507.81 763.8,508.2 764.4,508.64 765,509.01 765.6,509.37 766.2,509.42 766.8,509.22 767.4,509.05 768,509.07 768.6,509.36 769.2,509.29 769.8,508.99 770.4,509.63 771,510.24 771.6,509.6 772.2,508.96 772.8,508.65 773.4,508.84 774,509.57 774.6,509.75 775.2,509.98 775.8,510.83 776.4,510.77 777,509.98 777.6,510.04 778.2,510.25 778.8,510.14 779.4,510.07 780,510.25 780.6,510.64 781.2,510.55 781.8,510.47 782.4,510.74 782.5,510.61" stroke="#0000ff" stroke-width="2.8"/>
</g>
<g stroke="#000" stroke-width="2.6" fill="none">
<rect x="140.3" y="22.7" width="643.3" height="522.1"/>
<path d="M136.3,544.87H140.3M133.3,497.4H140.3M136.3,449.93H140.3M133.3,402.46H140.3M136.3,354.99H140.3M133.3,307.52H140.3M136.3,260.05H140.3M133.3,212.58H140.3M136.3,165.11H140.3M133.3,117.64H140.3M136.3,70.17H140.3M133.3,22.7H140.3M140.3,544.8V551.8M186.25,544.8V548.8M232.2,544.8V551.8M278.15,544.8V548.8M324.1,544.8V551.8M370.05,544.8V548.8M416,544.8V551.8M461.95,544.8V548.8M507.9,544.8V551.8M553.85,544.8V548.8M599.8,544.8V551.8M645.75,544.8V548.8M691.7,544.8V551.8M737.65,544.8V548.8M783.6,544.8V551.8" stroke-linecap="butt"/>
</g>
<text transform="translate(6.8,22.8) scale(0.93,1)" font-family="'Liberation Sans', Arial, sans-serif" font-size="30.6" font-weight="bold" font-style="normal" fill="#000" text-anchor="start">(a)</text>
<text transform="translate(130.5,504.7) scale(0.897,1)" font-family="'Liberation Sans', Arial, sans-serif" font-size="30.8" font-weight="bold" font-style="normal" fill="#000" text-anchor="end">0.000</text>
<text transform="translate(130.5,409.76) scale(0.897,1)" font-family="'Liberation Sans', Arial, sans-serif" font-size="30.8" font-weight="bold" font-style="normal" fill="#000" text-anchor="end">0.005</text>
<text transform="translate(130.5,314.82) scale(0.897,1)" font-family="'Liberation Sans', Arial, sans-serif" font-size="30.8" font-weight="bold" font-style="normal" fill="#000" text-anchor="end">0.010</text>
<text transform="translate(130.5,219.88) scale(0.897,1)" font-family="'Liberation Sans', Arial, sans-serif" font-size="30.8" font-weight="bold" font-style="normal" fill="#000" text-anchor="end">0.015</text>
<text transform="translate(130.5,124.94) scale(0.897,1)" font-family="'Liberation Sans', Arial, sans-serif" font-size="30.8" font-weight="bold" font-style="normal" fill="#000" text-anchor="end">0.020</text>
<text transform="translate(130.5,30) scale(0.897,1)" font-family="'Liberation Sans', Arial, sans-serif" font-size="30.8" font-weight="bold" font-style="normal" fill="#000" text-anchor="end">0.025</text>
<text transform="translate(140.6,576.4) scale(0.897,1)" font-family="'Liberation Sans', Arial, sans-serif" font-size="30.8" font-weight="bold" font-style="normal" fill="#000" text-anchor="middle">0</text>
<text transform="translate(232.5,576.4) scale(0.897,1)" font-family="'Liberation Sans', Arial, sans-serif" font-size="30.8" font-weight="bold" font-style="normal" fill="#000" text-anchor="middle">30</text>
<text transform="translate(324.4,576.4) scale(0.897,1)" font-family="'Liberation Sans', Arial, sans-serif" font-size="30.8" font-weight="bold" font-style="normal" fill="#000" text-anchor="middle">60</text>
<text transform="translate(416.3,576.4) scale(0.897,1)" font-family="'Liberation Sans', Arial, sans-serif" font-size="30.8" font-weight="bold" font-style="normal" fill="#000" text-anchor="middle">90</text>
<text transform="translate(508.2,576.4) scale(0.897,1)" font-family="'Liberation Sans', Arial, sans-serif" font-size="30.8" font-weight="bold" font-style="normal" fill="#000" text-anchor="middle">120</text>
<text transform="translate(600.1,576.4) scale(0.897,1)" font-family="'Liberation Sans', Arial, sans-serif" font-size="30.8" font-weight="bold" font-style="normal" fill="#000" text-anchor="middle">150</text>
<text transform="translate(692,576.4) scale(0.897,1)" font-family="'Liberation Sans', Arial, sans-serif" font-size="30.8" font-weight="bold" font-style="normal" fill="#000" text-anchor="middle">180</text>
<text transform="translate(783.9,576.4) scale(0.897,1)" font-family="'Liberation Sans', Arial, sans-serif" font-size="30.8" font-weight="bold" font-style="normal" fill="#000" text-anchor="middle">210</text>
<text transform="translate(392,613.7) scale(0.975,1)" font-family="'Liberation Sans', Arial, sans-serif" font-size="30.3" font-weight="bold" font-style="normal" fill="#000" text-anchor="start">Time (s)</text>
<text transform="translate(31.2,481) scale(1.0,1) rotate(-90)" font-family="'Liberation Sans', Arial, sans-serif" font-size="31.0" font-weight="bold" font-style="normal" fill="#000" text-anchor="start">Current Density&#160; (mA cm<tspan font-size="16" dy="-17.5">-2</tspan><tspan dy="17.5">)</tspan></text>
<text transform="translate(146,61.4) scale(0.985,1)" font-family="'Liberation Sans', Arial, sans-serif" font-size="26" font-weight="bold" font-style="normal" fill="#000" text-anchor="start">(a) TiO<tspan dy="13.6">2</tspan></text>
<text transform="translate(146,111.2) scale(0.985,1)" font-family="'Liberation Sans', Arial, sans-serif" font-size="26.2" font-weight="bold" font-style="normal" fill="#ff0000" text-anchor="start">(b) TG</text>
<text transform="translate(146,146.2) scale(0.975,1)" font-family="'Liberation Sans', Arial, sans-serif" font-size="26.2" font-weight="bold" font-style="normal" fill="#000" text-anchor="start"><tspan fill="#0000ff">(c)</tspan> TFSG</text>
<text transform="translate(635.5,105) scale(0.98,1)" font-family="'Liberation Sans', Arial, sans-serif" font-size="31.1" font-weight="bold" font-style="normal" fill="#ff0000" text-anchor="start">TG</text>
<text transform="translate(611.5,367.7) scale(0.955,1)" font-family="'Liberation Sans', Arial, sans-serif" font-size="31.5" font-weight="bold" font-style="normal" fill="#0000ff" text-anchor="start">TFSG</text>
<text transform="translate(622.5,518.6) scale(0.99,1)" font-family="'Liberation Sans', Arial, sans-serif" font-size="30.3" font-weight="bold" font-style="normal" fill="#000" text-anchor="start">TiO<tspan font-size="17.5" dy="12">2</tspan></text>
<defs><clipPath id="cb"><rect x="976.1" y="24.8" width="652.9" height="516.8"/></clipPath></defs>
<g clip-path="url(#cb)">
<path d="M1215.78,457.36L1216.22,456.64M1223.33,443.9L1224.97,440.7M1231,427.42L1233.2,421.88M1239.32,408.65L1244.78,398.35M1250.71,385.04L1255.39,372.26M1260.47,358.57L1266.93,341.33M1272.35,327.78L1283.35,301.92M1289.27,288.58L1305.53,253.52M1311.3,240.12L1328.7,196.48M1333.67,182.76L1351.53,128.24M1356.55,114.54L1385.25,43.86M1391.46,30.67L1397.2,20" stroke="#000" stroke-width="1.1" fill="none"/>
<path d="M1153.1,524.6h10v10h-10zM1154,522.8h10v10h-10zM1157,522h10v10h-10zM1161.6,519.8h10v10h-10zM1165,517.3h10v10h-10zM1168,514.5h10v10h-10zM1170.5,513.3h10v10h-10zM1173.2,510.5h10v10h-10zM1176,509h10v10h-10zM1178,507.5h10v10h-10zM1180.5,505h10v10h-10zM1184.3,501.3h10v10h-10zM1187.2,497.4h10v10h-10zM1190,492h10v10h-10zM1193.8,486h10v10h-10zM1197,482.5h10v10h-10zM1200,478.3h10v10h-10zM1204,469.2h10v10h-10zM1207,458.6h10v10h-10zM1215,445.4h10v10h-10zM1223.3,429.2h10v10h-10zM1230.9,410.1h10v10h-10zM1243.2,386.9h10v10h-10zM1252.9,360.4h10v10h-10zM1264.5,329.5h10v10h-10zM1281.2,290.2h10v10h-10zM1303.6,241.9h10v10h-10zM1326.4,184.7h10v10h-10zM1348.8,116.3h10v10h-10zM1383,32.1h10v10h-10z" fill="#000"/>
<path d="M1147.25,456.01L1147.65,455.49M1155.17,442.41L1156.33,439.69M1162.47,425.79L1165.13,420.01M1172.15,406.54L1177.65,397.16M1185.92,384.42L1196.68,369.38M1205.05,356.71L1218.45,334.69M1227.17,322.28L1249.73,294.32M1259.03,282.3L1287.87,243.5M1297.32,231.6L1331.58,191.2M1341.77,179.92L1396.73,122.78" stroke="#ff0000" stroke-width="1.1" fill="none"/>
<g fill="#ff0000"><circle cx="1078.4" cy="528.4" r="6.2"/><circle cx="1081" cy="526.5" r="6.2"/><circle cx="1084" cy="524.5" r="6.2"/><circle cx="1086.4" cy="522.7" r="6.2"/><circle cx="1089" cy="521.5" r="6.2"/><circle cx="1092.2" cy="521" r="6.2"/><circle cx="1094" cy="519" r="6.2"/><circle cx="1096" cy="517.4" r="6.2"/><circle cx="1099.9" cy="517" r="6.2"/><circle cx="1102" cy="514" r="6.2"/><circle cx="1103.7" cy="509.5" r="6.2"/><circle cx="1106.6" cy="506.3" r="6.2"/><circle cx="1108" cy="510" r="6.2"/><circle cx="1110.3" cy="512.9" r="6.2"/><circle cx="1112" cy="508" r="6.2"/><circle cx="1116.3" cy="497.6" r="6.2"/><circle cx="1117.5" cy="501" r="6.2"/><circle cx="1120.2" cy="500.6" r="6.2"/><circle cx="1124" cy="490.3" r="6.2"/><circle cx="1126" cy="489" r="6.2"/><circle cx="1135" cy="482.7" r="6.2"/><circle cx="1135.7" cy="473" r="6.2"/><circle cx="1142.7" cy="462.1" r="6.2"/><circle cx="1152.2" cy="449.4" r="6.2"/><circle cx="1159.3" cy="432.7" r="6.2"/><circle cx="1168.3" cy="413.1" r="6.2"/><circle cx="1181.5" cy="390.6" r="6.2"/><circle cx="1201.1" cy="363.2" r="6.2"/><circle cx="1222.4" cy="328.2" r="6.2"/><circle cx="1254.5" cy="288.4" r="6.2"/><circle cx="1292.4" cy="237.4" r="6.2"/><circle cx="1336.5" cy="185.4" r="6.2"/><circle cx="1402" cy="117.3" r="6.2"/></g>
<path d="M1407.63,436.31L1411.47,432.39M1422.28,419.34L1426.62,413.16M1437.07,399.78L1447.63,387.62M1457.96,374.16L1467.44,360.14M1478.14,347.02L1500.06,324.58M1510.46,311.26L1525.64,286.64M1535.03,272.47L1559.87,237.53" stroke="#0000ff" stroke-width="1.1" fill="none"/>
<path d="M1294.4,519.15L1301.4,531.65L1287.4,531.65zM1297.5,520.75L1304.5,533.25L1290.5,533.25zM1300,520.75L1307,533.25L1293,533.25zM1300.3,518.75L1307.3,531.25L1293.3,531.25zM1305.7,517.25L1312.7,529.75L1298.7,529.75zM1310.2,515.65L1317.2,528.15L1303.2,528.15zM1317.1,514.15L1324.1,526.65L1310.1,526.65zM1324,511.85L1331,524.35L1317,524.35zM1327.8,511.05L1334.8,523.55L1320.8,523.55zM1333.7,507.25L1340.7,519.75L1326.7,519.75zM1338.5,504.95L1345.5,517.45L1331.5,517.45zM1342.8,502.65L1349.8,515.15L1335.8,515.15zM1347.7,499.65L1354.7,512.15L1340.7,512.15zM1353.1,496.55L1360.1,509.05L1346.1,509.05zM1358.9,491.25L1365.9,503.75L1351.9,503.75zM1365.3,487.35L1372.3,499.85L1358.3,499.85zM1369.9,479.75L1376.9,492.25L1362.9,492.25zM1377.6,471.35L1384.6,483.85L1370.6,483.85zM1384.4,461.35L1391.4,473.85L1377.4,473.85zM1393.3,448.75L1400.3,461.25L1386.3,461.25zM1401.7,436.15L1408.7,448.65L1394.7,448.65zM1417.4,420.05L1424.4,432.55L1410.4,432.55zM1431.5,399.95L1438.5,412.45L1424.5,412.45zM1453.2,374.95L1460.2,387.45L1446.2,387.45zM1472.2,346.85L1479.2,359.35L1465.2,359.35zM1506,312.25L1513,324.75L1499,324.75zM1530.1,273.15L1537.1,285.65L1523.1,285.65zM1564.8,224.35L1571.8,236.85L1557.8,236.85z" fill="#0000ff"/>
</g>
<g stroke="#000" stroke-width="2.3" fill="none">
<rect x="976.1" y="24.8" width="652.9" height="516.8"/>
<path d="M969.1,528.85H976.1M972.1,497.35H976.1M969.1,465.84H976.1M972.1,434.34H976.1M969.1,402.84H976.1M972.1,371.33H976.1M969.1,339.83H976.1M972.1,308.33H976.1M969.1,276.83H976.1M972.1,245.32H976.1M969.1,213.82H976.1M972.1,182.32H976.1M969.1,150.81H976.1M972.1,119.31H976.1M969.1,87.81H976.1M972.1,56.3H976.1M969.1,24.8H976.1M976.1,541.6V548.6M1022.74,541.6V545.6M1069.37,541.6V548.6M1116.01,541.6V545.6M1162.64,541.6V548.6M1209.28,541.6V545.6M1255.91,541.6V548.6M1302.55,541.6V545.6M1349.19,541.6V548.6M1395.82,541.6V545.6M1442.46,541.6V548.6M1489.09,541.6V545.6M1535.73,541.6V548.6M1582.36,541.6V545.6M1629,541.6V548.6"/>
</g>
<path d="M1052.2,541.9L1073.2,531.2" stroke="#ff0000" stroke-width="2.4" fill="none"/>
<path d="M1139.3,540.9L1153.4,531.9" stroke="#000" stroke-width="1.4" fill="none"/>
<path d="M1276.5,541.6L1289.8,533.4" stroke="#0000ff" stroke-width="1.2" fill="none"/>
<text transform="translate(884.3,22.9) scale(0.95,1)" font-family="'Liberation Sans', Arial, sans-serif" font-size="30" font-weight="bold" font-style="normal" fill="#000" text-anchor="start">(b)</text>
<text transform="translate(967.5,535.85) scale(0.885,1)" font-family="'Liberation Sans', Arial, sans-serif" font-size="25" font-weight="bold" font-style="normal" fill="#000" text-anchor="end">0</text>
<text transform="translate(967.5,472.84) scale(0.885,1)" font-family="'Liberation Sans', Arial, sans-serif" font-size="25" font-weight="bold" font-style="normal" fill="#000" text-anchor="end">-50</text>
<text transform="translate(967.5,409.84) scale(0.885,1)" font-family="'Liberation Sans', Arial, sans-serif" font-size="25" font-weight="bold" font-style="normal" fill="#000" text-anchor="end">-100</text>
<text transform="translate(967.5,346.83) scale(0.885,1)" font-family="'Liberation Sans', Arial, sans-serif" font-size="25" font-weight="bold" font-style="normal" fill="#000" text-anchor="end">-150</text>
<text transform="translate(967.5,283.83) scale(0.885,1)" font-family="'Liberation Sans', Arial, sans-serif" font-size="25" font-weight="bold" font-style="normal" fill="#000" text-anchor="end">-200</text>
<text transform="translate(967.5,220.82) scale(0.885,1)" font-family="'Liberation Sans', Arial, sans-serif" font-size="25" font-weight="bold" font-style="normal" fill="#000" text-anchor="end">-250</text>
<text transform="translate(967.5,157.81) scale(0.885,1)" font-family="'Liberation Sans', Arial, sans-serif" font-size="25" font-weight="bold" font-style="normal" fill="#000" text-anchor="end">-300</text>
<text transform="translate(967.5,94.81) scale(0.885,1)" font-family="'Liberation Sans', Arial, sans-serif" font-size="25" font-weight="bold" font-style="normal" fill="#000" text-anchor="end">-350</text>
<text transform="translate(967.5,31.8) scale(0.885,1)" font-family="'Liberation Sans', Arial, sans-serif" font-size="25" font-weight="bold" font-style="normal" fill="#000" text-anchor="end">-400</text>
<text transform="translate(977.1,570.4) scale(0.885,1)" font-family="'Liberation Sans', Arial, sans-serif" font-size="25" font-weight="bold" font-style="normal" fill="#000" text-anchor="middle">30</text>
<text transform="translate(1070.37,570.4) scale(0.885,1)" font-family="'Liberation Sans', Arial, sans-serif" font-size="25" font-weight="bold" font-style="normal" fill="#000" text-anchor="middle">40</text>
<text transform="translate(1163.64,570.4) scale(0.885,1)" font-family="'Liberation Sans', Arial, sans-serif" font-size="25" font-weight="bold" font-style="normal" fill="#000" text-anchor="middle">50</text>
<text transform="translate(1256.91,570.4) scale(0.885,1)" font-family="'Liberation Sans', Arial, sans-serif" font-size="25" font-weight="bold" font-style="normal" fill="#000" text-anchor="middle">60</text>
<text transform="translate(1350.19,570.4) scale(0.885,1)" font-family="'Liberation Sans', Arial, sans-serif" font-size="25" font-weight="bold" font-style="normal" fill="#000" text-anchor="middle">70</text>
<text transform="translate(1443.46,570.4) scale(0.885,1)" font-family="'Liberation Sans', Arial, sans-serif" font-size="25" font-weight="bold" font-style="normal" fill="#000" text-anchor="middle">80</text>
<text transform="translate(1536.73,570.4) scale(0.885,1)" font-family="'Liberation Sans', Arial, sans-serif" font-size="25" font-weight="bold" font-style="normal" fill="#000" text-anchor="middle">90</text>
<text transform="translate(1630,570.4) scale(0.885,1)" font-family="'Liberation Sans', Arial, sans-serif" font-size="25" font-weight="bold" font-style="normal" fill="#000" text-anchor="middle">100</text>
<text transform="translate(1245.5,613.8) scale(1.0,1)" font-family="'Liberation Serif', 'Times New Roman', serif" font-size="41.5" font-weight="bold" font-style="italic" fill="#000" text-anchor="start">Z</text>
<text transform="translate(1266.9,613.8) scale(1.0,1)" font-family="'Liberation Serif', 'Times New Roman', serif" font-size="41.5" font-weight="bold" font-style="italic" fill="#000" text-anchor="start">′</text>
<text transform="translate(1277.3,613.8) scale(1.0,1)" font-family="'Liberation Serif', 'Times New Roman', serif" font-size="36" font-weight="normal" font-style="normal" fill="#000" text-anchor="start">(</text>
<text transform="translate(1288.3,613.8) scale(1.0,1) scale(0.906,1)" font-family="'Liberation Serif', 'Times New Roman', serif" font-size="39" font-weight="bold" font-style="normal" fill="#000" text-anchor="start">Ω</text>
<text transform="translate(1315.6,613.8) scale(1.0,1)" font-family="'Liberation Serif', 'Times New Roman', serif" font-size="36" font-weight="normal" font-style="normal" fill="#000" text-anchor="start">)</text>
<text transform="translate(902.5,365.3) scale(1.0,1) rotate(-90)" font-family="'Liberation Serif', 'Times New Roman', serif" font-size="40" font-weight="bold" font-style="normal" fill="#000" text-anchor="start"><tspan stroke="#000" stroke-width="0.9">-</tspan></text>
<text transform="translate(902.3,350.7) scale(1.0,1) rotate(-90)" font-family="'Liberation Serif', 'Times New Roman', serif" font-size="41.5" font-weight="bold" font-style="italic" fill="#000" text-anchor="start">Z</text>
<text transform="translate(902.3,328.2) scale(1.0,1) rotate(-90)" font-family="'Liberation Serif', 'Times New Roman', serif" font-size="41.5" font-weight="bold" font-style="italic" fill="#000" text-anchor="start">″</text>
<text transform="translate(902.3,308.7) scale(1.0,1) rotate(-90)" font-family="'Liberation Serif', 'Times New Roman', serif" font-size="36" font-weight="normal" font-style="normal" fill="#000" text-anchor="start">(</text>
<text transform="translate(902.3,297.5) scale(1.0,1) rotate(-90) scale(0.906,1)" font-family="'Liberation Serif', 'Times New Roman', serif" font-size="39" font-weight="bold" font-style="normal" fill="#000" text-anchor="start">Ω</text>
<text transform="translate(902.3,268.5) scale(1.0,1) rotate(-90)" font-family="'Liberation Serif', 'Times New Roman', serif" font-size="36" font-weight="normal" font-style="normal" fill="#000" text-anchor="start">)</text>
<path d="M990.9,53.5H1009M1025,53.5H1042.8" stroke="#000" stroke-width="0.95"/>
<path d="M1012,48.5h10v10h-10z" fill="#000"/>
<path d="M990.9,102.8H1009M1025,102.8H1042.8" stroke="#ff0000" stroke-width="0.95"/>
<circle cx="1017" cy="102.8" r="6.2" fill="#ff0000"/>
<path d="M990.9,151.9H1009M1025,151.9H1042.8" stroke="#0000ff" stroke-width="0.95"/>
<path d="M1017,145.4L1024.25,158.4L1009.75,158.4z" fill="#0000ff"/>
<text transform="translate(1049.5,62.5) scale(0.865,1)" font-family="'Liberation Serif', 'Times New Roman', serif" font-size="33.7" font-weight="bold" font-style="normal" fill="#000" text-anchor="start">TFSG</text>
<text transform="translate(1052,110.8) scale(0.89,1)" font-family="'Liberation Serif', 'Times New Roman', serif" font-size="32.5" font-weight="bold" font-style="normal" fill="#ff0000" text-anchor="start">TG</text>
<text transform="translate(1052,160.3) scale(0.89,1)" font-family="'Liberation Serif', 'Times New Roman', serif" font-size="32.5" font-weight="bold" font-style="normal" fill="#0000ff" text-anchor="start">TiO<tspan dy="10">2</tspan></text>
<text transform="translate(1007.9,492.8) scale(0.94,1)" font-family="'Liberation Sans', Arial, sans-serif" font-size="25" font-weight="normal" font-style="normal" fill="#ff0000" text-anchor="start">R</text>
<text transform="translate(1024.6,502.4) scale(0.94,1)" font-family="'Liberation Sans', Arial, sans-serif" font-size="15" font-weight="normal" font-style="normal" fill="#ff0000" text-anchor="start">CT</text>
<text transform="translate(1041.6,492.8) scale(0.94,1)" font-family="'Liberation Sans', Arial, sans-serif" font-size="25" font-weight="normal" font-style="normal" fill="#ff0000" text-anchor="start">4.9</text>
<text transform="translate(1079.8,492.8) scale(0.94,1)" font-family="'Liberation Serif', 'Times New Roman', serif" font-size="25" font-weight="normal" font-style="normal" fill="#ff0000" text-anchor="start">Ω</text>
<text transform="translate(1199.2,518.7) scale(0.94,1)" font-family="'Liberation Sans', Arial, sans-serif" font-size="25" font-weight="normal" font-style="normal" fill="#000" text-anchor="start">6.2</text>
<text transform="translate(1237.6,518.7) scale(0.94,1)" font-family="'Liberation Serif', 'Times New Roman', serif" font-size="25" font-weight="normal" font-style="normal" fill="#000" text-anchor="start">Ω</text>
<text transform="translate(1367.3,521.9) scale(0.94,1)" font-family="'Liberation Sans', Arial, sans-serif" font-size="25" font-weight="normal" font-style="normal" fill="#0000ff" text-anchor="start">6.5</text>
<text transform="translate(1405.3,521.9) scale(0.94,1)" font-family="'Liberation Serif', 'Times New Roman', serif" font-size="25" font-weight="normal" font-style="normal" fill="#0000ff" text-anchor="start">Ω</text>
</svg>
</body></html>
